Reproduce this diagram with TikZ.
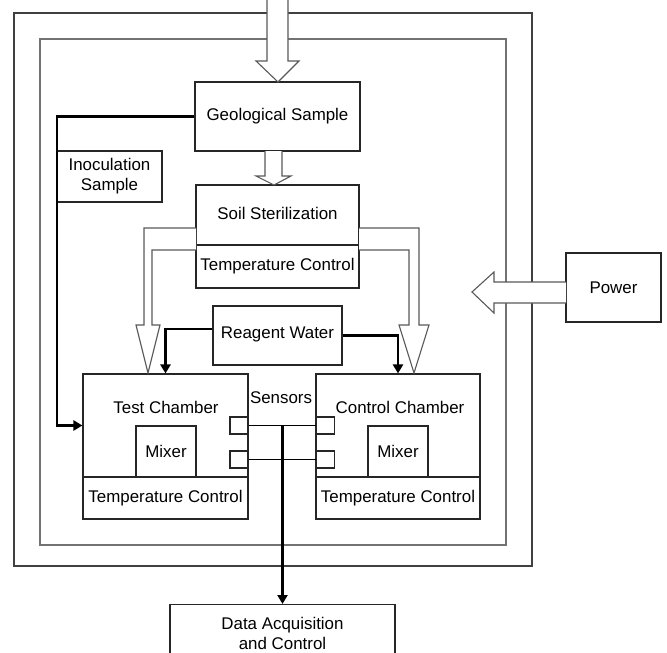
\documentclass[tikz,border=0pt]{standalone}
\usepackage{fontspec}
\setmainfont{Liberation Sans}
\usetikzlibrary{arrows.meta, positioning}

\begin{document}
\begin{tikzpicture}[
x=1pt, y=-1pt,
font=\fontsize{16.9}{20}\selectfont,
box/.style={draw=black!85, line width=1.1pt, rectangle, inner sep=2pt, align=center},
label/.style={inner sep=1pt, align=center},
flow/.style={line width=2.5pt, -{Triangle[length=9pt, width=10pt]}},
hollow/.style={draw=black!65, line width=1.1pt, fill=white, line join=miter},
frame/.style={line width=1.6pt}
]
\useasboundingbox (0,0) rectangle (667,653);
\clip (0,0) rectangle (667,653);

% enclosure walls
\draw[frame, draw=black!75] (14,13) rectangle (532,566);
\draw[frame, draw=black!55] (40,39) rectangle (506,545);

% sample handling
\node[box, minimum width=165, minimum height=69] (geo) at (277.5,116.5)
{Geological Sample};

\node[box, minimum width=163, minimum height=60] (soil) at (277.5,215)
{\raisebox{3pt}{Soil Sterilization}};
\node[box, minimum width=163, minimum height=43] (soiltc) at (277.5,266.5)
{Temperature Control};

\node[box, minimum width=105, minimum height=51] (inoc) at (109.5,176.5)
{Inoculation\\Sample};

\node[box, minimum width=129, minimum height=59] (reagent) at (277.5,335.5)
{\raisebox{5pt}{Reagent Water}};

% chambers
\node[box, minimum width=165, minimum height=103] (test) at (165.5,425.5) {};
\node[box, minimum width=165, minimum height=42] (testtc) at (165.5,498)
{Temperature Control};
\node[box, minimum width=60, minimum height=51] (testmix) at (166,451.5)
{Mixer};
\node[label] (testlbl) at (166,407) {Test Chamber};

\node[box, minimum width=164, minimum height=103] (ctrl) at (398,425.5) {};
\node[box, minimum width=164, minimum height=42] (ctrltc) at (398,498)
{Temperature Control};
\node[box, minimum width=60, minimum height=51] (ctrlmix) at (398,451.5)
{Mixer};
\node[label] (ctrllbl) at (400,407) {Control Chamber};

% sensor ports
\node[box, minimum width=18, minimum height=17] (ts1) at (239,425.5) {};
\node[box, minimum width=18, minimum height=17] (ts2) at (239,459.5) {};
\node[box, minimum width=18, minimum height=17] (cs1) at (325.5,425.5) {};
\node[box, minimum width=18, minimum height=17] (cs2) at (325.5,459.5) {};
\node[label] (senslbl) at (281,398) {Sensors};

\node[box, minimum width=95, minimum height=69] (power) at (613.5,287.5)
{Power};

% runs off the bottom edge
\node[box, minimum width=225, minimum height=58, anchor=north] (daq) at (282.5,604)
{Data Acquisition\\and Control};

% hollow arrows
\draw[hollow] (267,-5) -- (267,61) -- (256,61) -- (278,82) -- (299,61)
  -- (288,61) -- (288,-5);
\draw[hollow] (265,151) -- (265,176) -- (256,176) -- (274,185) -- (291,176)
  -- (282,176) -- (282,151);
\draw[hollow] (196,228) -- (144,228) -- (144,325) -- (136,325) -- (148,373)
  -- (160,325) -- (152,325) -- (152,250) -- (196,250);
\draw[hollow] (359,228) -- (419,228) -- (419,325) -- (429,325) -- (414,373)
  -- (399,325) -- (409,325) -- (409,250) -- (359,250);
\draw[hollow] (566,282) -- (494,282) -- (494,272) -- (472,292) -- (494,313)
  -- (494,303) -- (566,303);

% flows
\coordinate (inocbend) at (57,425.5);
\draw[flow] (geo.west) -| (inocbend) -- (test.west);
\draw[flow] ([yshift=6.5pt]reagent.west) -| (test.north);
\draw[flow] (reagent.east) -| (ctrl.north);

\draw[line width=1.1pt] (ts1) -- (cs1);
\draw[line width=1.1pt] (ts2) -- (cs2);
\coordinate (tap) at (282.5,425.5);
\draw[flow] (tap) -- (daq.north);

\end{tikzpicture}
\end{document}
